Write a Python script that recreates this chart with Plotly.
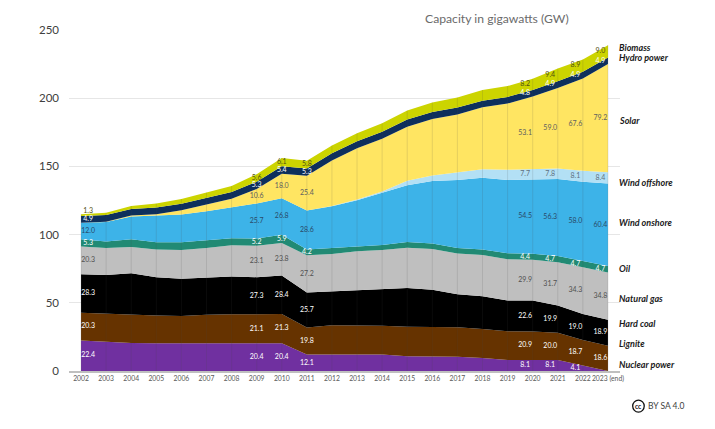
import plotly.graph_objects as go

years = list(range(2002, 2024))
tick_labels = [str(y) for y in years[:-1]] + ["2023 (end)"]
y_ticks = [0, 50, 100, 150, 200, 250]

nuclear = [22.4, 21.3, 20.5, 20.4, 20.4, 20.4, 20.4, 20.4, 20.4, 12.1, 12.1, 12.1, 12.1, 10.8, 10.8, 10.5, 9.5, 8.1, 8.1, 8.1, 4.1, 0.0]
lignite = [20.3, 20.7, 20.5, 20.2, 19.9, 20.9, 21.2, 21.1, 21.3, 19.8, 21.4, 21.3, 21.1, 21.6, 21.6, 21.5, 21.3, 21.0, 20.9, 20.0, 18.7, 18.6]
hard_coal = [28.3, 28.4, 30.6, 28.1, 27.4, 27.4, 27.6, 27.3, 28.4, 25.7, 24.9, 25.8, 26.5, 28.4, 27.2, 24.2, 24.0, 22.5, 22.6, 19.9, 19.0, 18.9]
natural_gas = [20.3, 19.8, 19.3, 20.3, 21.1, 21.5, 23.0, 23.1, 23.8, 27.2, 27.4, 28.6, 29.1, 29.6, 29.8, 29.9, 30.2, 30.3, 29.9, 31.7, 34.3, 34.8]
oil = [5.3, 4.7, 5.7, 5.4, 5.6, 5.4, 5.1, 5.2, 5.9, 4.2, 4.4, 3.9, 3.6, 4.1, 4.1, 4.1, 4.0, 4.4, 4.4, 4.7, 4.7, 4.7]
wind_onshore = [12.0, 14.4, 16.6, 19.3, 20.3, 21.5, 22.7, 25.7, 26.8, 28.6, 30.6, 33.5, 38.2, 41.6, 45.8, 49.9, 52.6, 53.8, 54.5, 56.3, 58.0, 60.4]
wind_offshore = [0.0, 0.0, 0.0, 0.0, 0.0, 0.0, 0.0, 0.0, 0.1, 0.1, 0.2, 0.5, 1.0, 3.3, 4.1, 5.4, 6.4, 7.5, 7.7, 7.8, 8.1, 8.4]
solar = [0.1, 0.2, 0.8, 1.2, 3.1, 4.9, 6.3, 10.6, 18.0, 25.4, 33.3, 37.6, 38.6, 39.7, 41.3, 42.6, 45.3, 48.5, 53.1, 59.0, 67.6, 79.2]
hydro = [4.9, 4.9, 4.8, 4.9, 4.9, 4.9, 5.0, 5.3, 5.4, 5.3, 5.3, 5.2, 5.2, 5.2, 5.2, 5.0, 4.9, 4.8, 4.8, 4.9, 4.9, 4.9]
biomass = [1.3, 1.6, 2.2, 3.0, 3.4, 3.9, 4.4, 5.6, 6.1, 5.8, 5.7, 5.8, 6.2, 6.6, 7.0, 7.4, 7.8, 8.0, 8.2, 9.4, 8.9, 9.0]

series_names = ["Nuclear power", "Lignite", "Hard coal", "Natural gas", "Oil",
                "Wind onshore", "Wind offshore", "Solar", "Hydro power", "Biomass"]
series_values = [nuclear, lignite, hard_coal, natural_gas, oil,
                 wind_onshore, wind_offshore, solar, hydro, biomass]
series_colors = ["#7030A0", "#663300", "#000000", "#BFBFBF", "#218A74",
                 "#3DB3E8", "#B3E0F5", "#FFE562", "#0E2F5C", "#CCD400"]
label_colors = ["#FFFFFF", "#FFFFFF", "#FFFFFF", "#505050", "#FFFFFF",
                "#2A4A68", "#607080", "#606060", "#FFFFFF", "#505010"]
label_years = {
    "Nuclear power": [2002, 2009, 2010, 2011, 2020, 2021, 2022],
    "Lignite": [2002, 2009, 2010, 2011, 2020, 2021, 2022, 2023],
    "Hard coal": [2002, 2009, 2010, 2011, 2020, 2021, 2022, 2023],
    "Natural gas": [2002, 2009, 2010, 2011, 2020, 2021, 2022, 2023],
    "Oil": [2002, 2009, 2010, 2011, 2020, 2021, 2022, 2023],
    "Wind onshore": [2002, 2009, 2010, 2011, 2020, 2021, 2022, 2023],
    "Wind offshore": [2020, 2021, 2022, 2023],
    "Solar": [2009, 2010, 2011, 2020, 2021, 2022, 2023],
    "Hydro power": [2002, 2009, 2010, 2011, 2020, 2021, 2022, 2023],
    "Biomass": [2002, 2009, 2010, 2011, 2020, 2021, 2022, 2023],
}
side_labels = ["Biomass", "Hydro power", "Solar", "Wind offshore", "Wind onshore",
               "Oil", "Natural gas", "Hard coal", "Lignite", "Nuclear power"]
side_label_levels = [237.5, 230, 184, 138.5, 109, 74.8, 53.5, 34.5, 19.8, 5]

FONT = "Lato, Carlito, sans-serif"
fig = go.Figure()

for name, vals, col in zip(series_names, series_values, series_colors):
    fig.add_trace(go.Scatter(x=years, y=vals, name=name, mode="lines", stackgroup="one",
                             fillcolor=col, line=dict(width=0, color=col), showlegend=False))

totals = [sum(v[i] for v in series_values) for i in range(len(years))]
drop_x, drop_y = [], []
for yr, tot in zip(years, totals):
    drop_x += [yr, yr, None]
    drop_y += [0, tot, None]
fig.add_trace(go.Scatter(x=drop_x, y=drop_y, mode="lines", showlegend=False, hoverinfo="skip",
                         line=dict(width=1, color="rgba(70,70,70,0.14)")))

base = [0.0] * len(years)
for name, vals, lc in zip(series_names, series_values, label_colors):
    lx, ly, lt = [], [], []
    for yr in label_years[name]:
        i = years.index(yr)
        shift = 0.28 if yr == 2002 else (-0.3 if yr >= 2020 else 0)
        lx.append(yr + shift)
        mid = base[i] + vals[i] / 2
        if vals[i] < 2:
            mid = base[i] + vals[i] + 2.5
        ly.append(mid)
        lt.append(f"{vals[i]:.1f}")
    fig.add_trace(go.Scatter(x=lx, y=ly, text=lt, mode="text", showlegend=False, hoverinfo="skip",
                             textposition="middle center",
                             textfont=dict(family=FONT, size=7, color=lc)))
    base = [b + v for b, v in zip(base, vals)]

for txt, lvl in zip(side_labels, side_label_levels):
    fig.add_annotation(x=1.0, xref="paper", y=lvl, yref="y", xanchor="left", xshift=-3,
                       text=f"<b><i>{txt}</i></b>", showarrow=False,
                       font=dict(family=FONT, size=9, color="#1a1a1a"))

fig.add_annotation(xref="paper", yref="paper", x=0.911, y=1.035, xanchor="right", yanchor="middle",
                   text="Capacity in gigawatts (GW)", showarrow=False,
                   font=dict(family=FONT, size=12.2, color="#6b6b6b"))
fig.add_annotation(xref="paper", yref="paper", x=1.122, y=-0.103, xanchor="right", yanchor="middle",
                   text="BY SA 4.0", showarrow=False,
                   font=dict(family=FONT, size=8.5, color="#404040"))
fig.add_annotation(xref="paper", yref="paper", x=1.0335, y=-0.103, xanchor="center", yanchor="middle",
                   text="<b>cc</b>", showarrow=False,
                   font=dict(family=FONT, size=6.5, color="#111111"))
fig.add_shape(type="circle", xref="paper", yref="paper", x0=1.0335 - 0.0105, x1=1.0335 + 0.0105,
              y0=-0.103 - 0.0175, y1=-0.103 + 0.0175, line=dict(color="#111111", width=1.3),
              fillcolor="white", layer="below")

fig.update_layout(
    width=715, height=429, margin=dict(l=69, r=95, t=30, b=58, pad=0),
    paper_bgcolor="white", plot_bgcolor="white", showlegend=False,
    font=dict(family=FONT),
    xaxis=dict(range=[2001.52, 2023.48], tickmode="array", tickvals=years, ticktext=tick_labels,
               tickangle=0, showgrid=False, zeroline=False, ticks="", showline=True,
               linecolor="#BFBFBF", linewidth=2, tickfont=dict(family=FONT, size=6.8, color="#595959")),
    yaxis=dict(range=[0, 250], tickmode="array", tickvals=y_ticks, showgrid=True, gridcolor="#E6E6E6",
               gridwidth=1, zeroline=False, ticks="", showline=False, ticklabelstandoff=9,
               tickfont=dict(family=FONT, size=11.5, color="#404040")),
)
fig.write_html("out.html", config={"displayModeBar": False}, post_script="document.body.style.margin='0';")
